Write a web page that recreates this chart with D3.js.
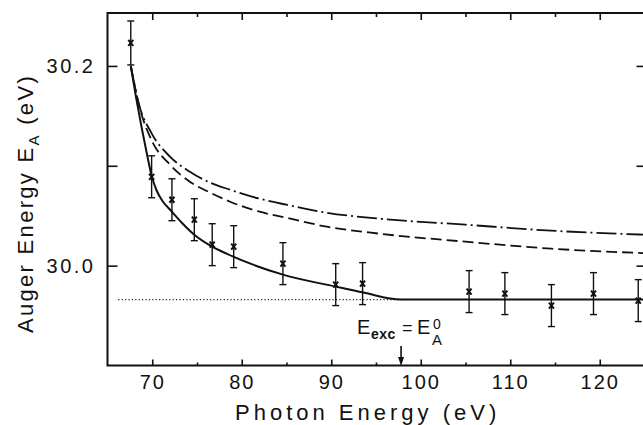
<!DOCTYPE html>
<html>
<head>
<meta charset="utf-8">
<style>
  body { margin: 0; background: #fff; }
  svg { display: block; }
  text { font-family: "Liberation Sans", "DejaVu Sans", sans-serif; fill: #111; }
</style>
<script src="https://d3js.org/d3.v7.min.js"></script>
</head>
<body>
<svg width="643" height="425"></svg>
<script>
// measured points (photon energy, auger energy, error)
var photonE = [67.6, 69.93, 72.2, 74.7, 76.7, 79.1, 84.6, 90.5, 93.5, 105.4, 109.4, 114.6, 119.3, 124.3];
var augerE  = [30.223, 30.089, 30.066, 30.046, 30.021, 30.019, 30.002, 29.981, 29.982, 29.974, 29.972, 29.960, 29.972, 29.965];
var errE    = [0.022, 0.021, 0.021, 0.021, 0.021, 0.021, 0.021, 0.021, 0.021, 0.021, 0.021, 0.021, 0.021, 0.021];

// fitted curves
var solidX = [67.6, 68.2, 68.8, 69.4, 69.93, 70.5, 71.2, 72.0, 73.3, 74.7, 76.5, 78.3, 84.6, 90.5, 93.6, 97.8, 125];
var solidY = [30.200, 30.168, 30.139, 30.112, 30.090, 30.075, 30.064, 30.056, 30.043, 30.031, 30.020, 30.012, 29.991, 29.979, 29.973, 29.966, 29.966];
var dashedX = [67.6, 68.6, 69.9, 72.0, 74.2, 76.5, 78.7, 82.0, 85.0, 89.5, 95.4, 105.0, 114.6, 125];
var dashedY = [30.200, 30.158, 30.126, 30.101, 30.084, 30.073, 30.064, 30.054, 30.048, 30.039, 30.032, 30.024, 30.017, 30.0125];
var dashDotX = [67.6, 68.5, 69.9, 72.0, 74.2, 76.5, 78.7, 82.0, 85.0, 89.5, 95.4, 105.0, 114.6, 125];
var dashDotY = [30.200, 30.162, 30.133, 30.109, 30.094, 30.083, 30.076, 30.067, 30.061, 30.053, 30.047, 30.041, 30.035, 30.031];
var dotX = [66.2, 97.8];
var dotY = [29.966, 29.966];
var eExc = 97.8;

var xMajor = [70, 80, 90, 100, 110, 120];
var xMinor = [75, 85, 95, 105, 115];
var yMajor = [30.0, 30.1, 30.2];
var yLabels = ["30.0", "", "30.2"];

var svg = d3.select("svg");
var pLeft = 107.5, pRight = 644.5, pTop = 13, pBottom = 365.5;

var x = d3.scaleLinear().domain([65, 125]).range([pLeft, pRight]);
var y = d3.scaleLinear().domain([29.9, 30.253]).range([pBottom, pTop]);

function zip(a, b) { return a.map(function(v, i) { return [v, b[i]]; }); }

var line = d3.line()
    .x(function(d) { return x(d[0]); })
    .y(function(d) { return y(d[1]); })
    .curve(d3.curveMonotoneX);

// frame
svg.append("rect")
    .attr("x", pLeft).attr("y", pTop)
    .attr("width", pRight - pLeft).attr("height", pBottom - pTop)
    .style("fill", "none").style("stroke", "#111").style("stroke-width", 2);

// bottom axis
var gx = svg.append("g").attr("transform", "translate(0," + pBottom + ")")
    .call(d3.axisBottom(x).tickValues(xMajor).tickSizeInner(-6).tickSizeOuter(0).tickPadding(9).tickFormat(d3.format("d")));
svg.append("g").attr("transform", "translate(0," + pBottom + ")")
    .call(d3.axisBottom(x).tickValues(xMinor).tickSizeInner(-3).tickSizeOuter(0).tickFormat(""));
// top axis
svg.append("g").attr("transform", "translate(0," + pTop + ")")
    .call(d3.axisTop(x).tickValues(xMajor).tickSizeInner(-7).tickSizeOuter(0).tickFormat(""));
svg.append("g").attr("transform", "translate(0," + pTop + ")")
    .call(d3.axisTop(x).tickValues(xMinor).tickSizeInner(-4).tickSizeOuter(0).tickFormat(""));
// left axis
var gy = svg.append("g").attr("transform", "translate(" + pLeft + ",0)")
    .call(d3.axisLeft(y).tickValues(yMajor).tickSizeInner(-10).tickSizeOuter(0).tickPadding(12)
      .tickFormat(function(d, i) { return yLabels[i]; }));
// right axis
svg.append("g").attr("transform", "translate(" + pRight + ",0)")
    .call(d3.axisRight(y).tickValues(yMajor).tickSizeInner(-8).tickSizeOuter(0).tickFormat(""));

svg.selectAll(".domain").remove();
svg.selectAll(".tick line").style("stroke", "#111").style("stroke-width", 1.6);
gx.selectAll("text").style("font-size", "20px").style("letter-spacing", "2px").attr("fill", "#111")
    .style("font-family", "Liberation Sans");
gy.selectAll("text").style("font-size", "20px").style("letter-spacing", "2.5px").attr("fill", "#111")
    .style("font-family", "Liberation Sans");

// curves
svg.append("path").datum(zip(dotX, dotY)).attr("d", line)
    .style("fill", "none").style("stroke", "#222").style("stroke-width", 1.3).style("stroke-dasharray", "1.2,2.2");
svg.append("path").datum(zip(dashDotX, dashDotY)).attr("d", line)
    .style("fill", "none").style("stroke", "#111").style("stroke-width", 1.8).style("stroke-dasharray", "20,4,2,4");
svg.append("path").datum(zip(dashedX, dashedY)).attr("d", line)
    .style("fill", "none").style("stroke", "#111").style("stroke-width", 1.8).style("stroke-dasharray", "11,5");
svg.append("path").datum(zip(solidX, solidY)).attr("d", line)
    .style("fill", "none").style("stroke", "#111").style("stroke-width", 2);

// data points with error bars
var pts = svg.append("g").selectAll("g")
    .data(photonE.map(function(v, i) { return { e: v, a: augerE[i], s: errE[i] }; }))
    .enter().append("g")
    .attr("transform", function(d) { return "translate(" + x(d.e) + ",0)"; })
    .style("stroke", "#111").style("fill", "none");
pts.append("line")
    .attr("y1", function(d) { return y(d.a + d.s); })
    .attr("y2", function(d) { return y(d.a - d.s); })
    .style("stroke-width", 1.4);
pts.append("line").attr("x1", -3.5).attr("x2", 3.5)
    .attr("y1", function(d) { return y(d.a + d.s); })
    .attr("y2", function(d) { return y(d.a + d.s); })
    .style("stroke-width", 1.4);
pts.append("line").attr("x1", -3.5).attr("x2", 3.5)
    .attr("y1", function(d) { return y(d.a - d.s); })
    .attr("y2", function(d) { return y(d.a - d.s); })
    .style("stroke-width", 1.4);
pts.append("path")
    .attr("d", function(d) {
      var c = y(d.a);
      return "M-2.5," + (c - 3) + "L2.5," + (c + 3) + "M2.5," + (c - 3) + "L-2.5," + (c + 3);
    })
    .style("stroke-width", 2);

// E_exc arrow
var ax = x(eExc);
svg.append("line").attr("x1", ax).attr("x2", ax).attr("y1", 346).attr("y2", 358)
    .style("stroke", "#111").style("stroke-width", 1.6);
svg.append("path").attr("d", "M" + (ax - 3) + ",357L" + (ax + 3) + ",357L" + ax + ",366Z").style("fill", "#111");

var ann = svg.append("g");
ann.append("text").attr("x", 357).attr("y", 334).style("font-size", "20px").text("E");
ann.append("text").attr("x", 371).attr("y", 339).style("font-size", "14px").style("font-weight", "bold")
    .style("letter-spacing", "0.5px").text("exc");
ann.append("text").attr("x", 402).attr("y", 334).style("font-size", "18px").text("=");
ann.append("text").attr("x", 417).attr("y", 334).style("font-size", "20px").text("E");
ann.append("text").attr("x", 433).attr("y", 329).style("font-size", "14px").text("0");
ann.append("text").attr("x", 432).attr("y", 345).style("font-size", "15px").text("A");

// axis titles
svg.append("text").attr("x", 235).attr("y", 420)
    .style("font-size", "22px").style("letter-spacing", "4px")
    .text("Photon Energy (eV)");

var yt = svg.append("text")
    .attr("transform", "translate(33,333)rotate(-90)")
    .style("font-size", "22px").style("letter-spacing", "2.3px");
yt.append("tspan").text("Auger Energy E");
yt.append("tspan").attr("dy", 6).style("font-size", "15px").text("A");
yt.append("tspan").attr("dy", -6).text(" (eV)");
</script>
</body>
</html>
